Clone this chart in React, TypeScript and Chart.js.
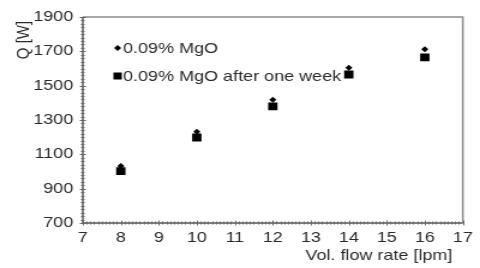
import { useEffect, useRef } from "react";
import { Chart, registerables } from "chart.js";

Chart.register(...registerables);

const flowRates = [8, 10, 12, 14, 16];
const qFresh = [1032, 1232, 1418, 1605, 1712];
const qWeek = [1002, 1198, 1380, 1565, 1665];
const seriesLabels = ["0.09% MgO", "0.09% MgO after one week"];
const xTitle = "Vol. flow rate [lpm]";
const yTitle = "Q [W]";
const xMin = 7, xMax = 17, xStep = 1, xMinorStep = 0.1;
const yMin = 700, yMax = 1900, yStep = 200, yMinorStep = 20;

const FONT = "'Liberation Sans', Arial, Helvetica, sans-serif";
const TEXT = "#2a2a2a";

const decorPlugin = {
  id: "decor",
  afterDraw(chart: any) {
    const ctx = chart.ctx as CanvasRenderingContext2D;
    const { left, right, top, bottom } = chart.chartArea;
    const xs = chart.scales.x;
    const ys = chart.scales.y;
    ctx.save();
    // light box top/right
    ctx.strokeStyle = "#8c8c8c";
    ctx.lineWidth = 1.5;
    ctx.beginPath();
    ctx.moveTo(left, top);
    ctx.lineTo(right, top);
    ctx.lineTo(right, bottom);
    ctx.stroke();
    // axes
    ctx.strokeStyle = "#555";
    ctx.lineWidth = 1.5;
    ctx.beginPath();
    ctx.moveTo(left, top);
    ctx.lineTo(left, bottom);
    ctx.lineTo(right, bottom);
    ctx.stroke();
    // minor ticks
    ctx.strokeStyle = "#666";
    ctx.lineWidth = 1;
    ctx.beginPath();
    const nx = Math.round((xMax - xMin) / xMinorStep);
    for (let i = 0; i <= nx; i++) {
      const px = Math.round(xs.getPixelForValue(xMin + i * xMinorStep)) + 0.5;
      const len = i % 10 === 0 ? 2.5 : 1.5;
      ctx.moveTo(px, bottom - len);
      ctx.lineTo(px, bottom + len);
    }
    const ny = Math.round((yMax - yMin) / yMinorStep);
    for (let i = 0; i <= ny; i++) {
      const py = Math.round(ys.getPixelForValue(yMin + i * yMinorStep)) + 0.5;
      const len = i % 10 === 0 ? 2.5 : 1.5;
      ctx.moveTo(left - len, py);
      ctx.lineTo(left + len, py);
    }
    ctx.stroke();

    // legend
    ctx.fillStyle = "#000";
    const lx = left + 29;
    const ly1 = top + 31;
    const ly2 = top + 59;
    ctx.beginPath();
    ctx.moveTo(lx - 3, ly1);
    ctx.lineTo(lx, ly1 - 3);
    ctx.lineTo(lx + 3, ly1);
    ctx.lineTo(lx, ly1 + 3);
    ctx.closePath();
    ctx.fill();
    ctx.fillRect(lx - 3.5, ly2 - 3.5, 7, 7);
    ctx.fillStyle = TEXT;
    ctx.font = `15px ${FONT}`;
    ctx.textAlign = "left";
    ctx.textBaseline = "middle";
    ctx.fillText(seriesLabels[0], lx + 4.5, ly1 + 0.5);
    ctx.fillText(seriesLabels[1], lx + 4.5, ly2 + 0.5);

    // x title
    ctx.textAlign = "right";
    ctx.fillText(xTitle, 377, 256);
    // y title
    ctx.save();
    ctx.translate(20, 40);
    ctx.rotate(-Math.PI / 2);
    ctx.textAlign = "center";
    ctx.fillText(yTitle, 0, 0);
    ctx.restore();
    ctx.restore();
  },
};

export default function App() {
  const ref = useRef<HTMLCanvasElement>(null);
  useEffect(() => {
    document.body.style.margin = "0";
    Chart.defaults.font.family = FONT;
    const chart = new Chart(ref.current!, {
      type: "scatter",
      data: {
        datasets: [
          {
            label: seriesLabels[0],
            data: flowRates.map((x, i) => ({ x, y: qFresh[i] })),
            pointStyle: "rectRot",
            pointRadius: 3,
            backgroundColor: "#000",
            borderColor: "#000",
            borderWidth: 0,
          },
          {
            label: seriesLabels[1],
            data: flowRates.map((x, i) => ({ x, y: qWeek[i] })),
            pointStyle: "rect",
            pointRadius: 5.5,
            backgroundColor: "#000",
            borderColor: "#000",
            borderWidth: 0,
          },
        ],
      },
      options: {
        responsive: false,
        animation: false,
        layout: { padding: { left: 0, top: 13, right: 5, bottom: 0 } },
        plugins: { legend: { display: false }, tooltip: { enabled: false } },
        scales: {
          x: {
            type: "linear",
            min: xMin,
            max: xMax,
            ticks: { stepSize: xStep, font: { size: 15 }, color: TEXT, padding: 6, callback: (v: any) => String(v) },
            grid: { display: false, drawTicks: false },
            border: { display: false },
            afterFit: (s: any) => { s.height = 45; },
          },
          y: {
            type: "linear",
            min: yMin,
            max: yMax,
            ticks: { stepSize: yStep, font: { size: 15 }, color: TEXT, padding: 8, callback: (v: any) => String(v) },
            grid: { display: false, drawTicks: false },
            border: { display: false },
            afterFit: (s: any) => { s.width = 69; },
          },
        },
      },
      plugins: [decorPlugin],
    });
    return () => chart.destroy();
  }, []);
  return (
    <div style={{ width: 480, height: 268, background: "#fff" }}>
      <canvas
        ref={ref}
        width={400}
        height={268}
        style={{ width: "480px", height: "268px", display: "block" }}
      />
    </div>
  );
}
